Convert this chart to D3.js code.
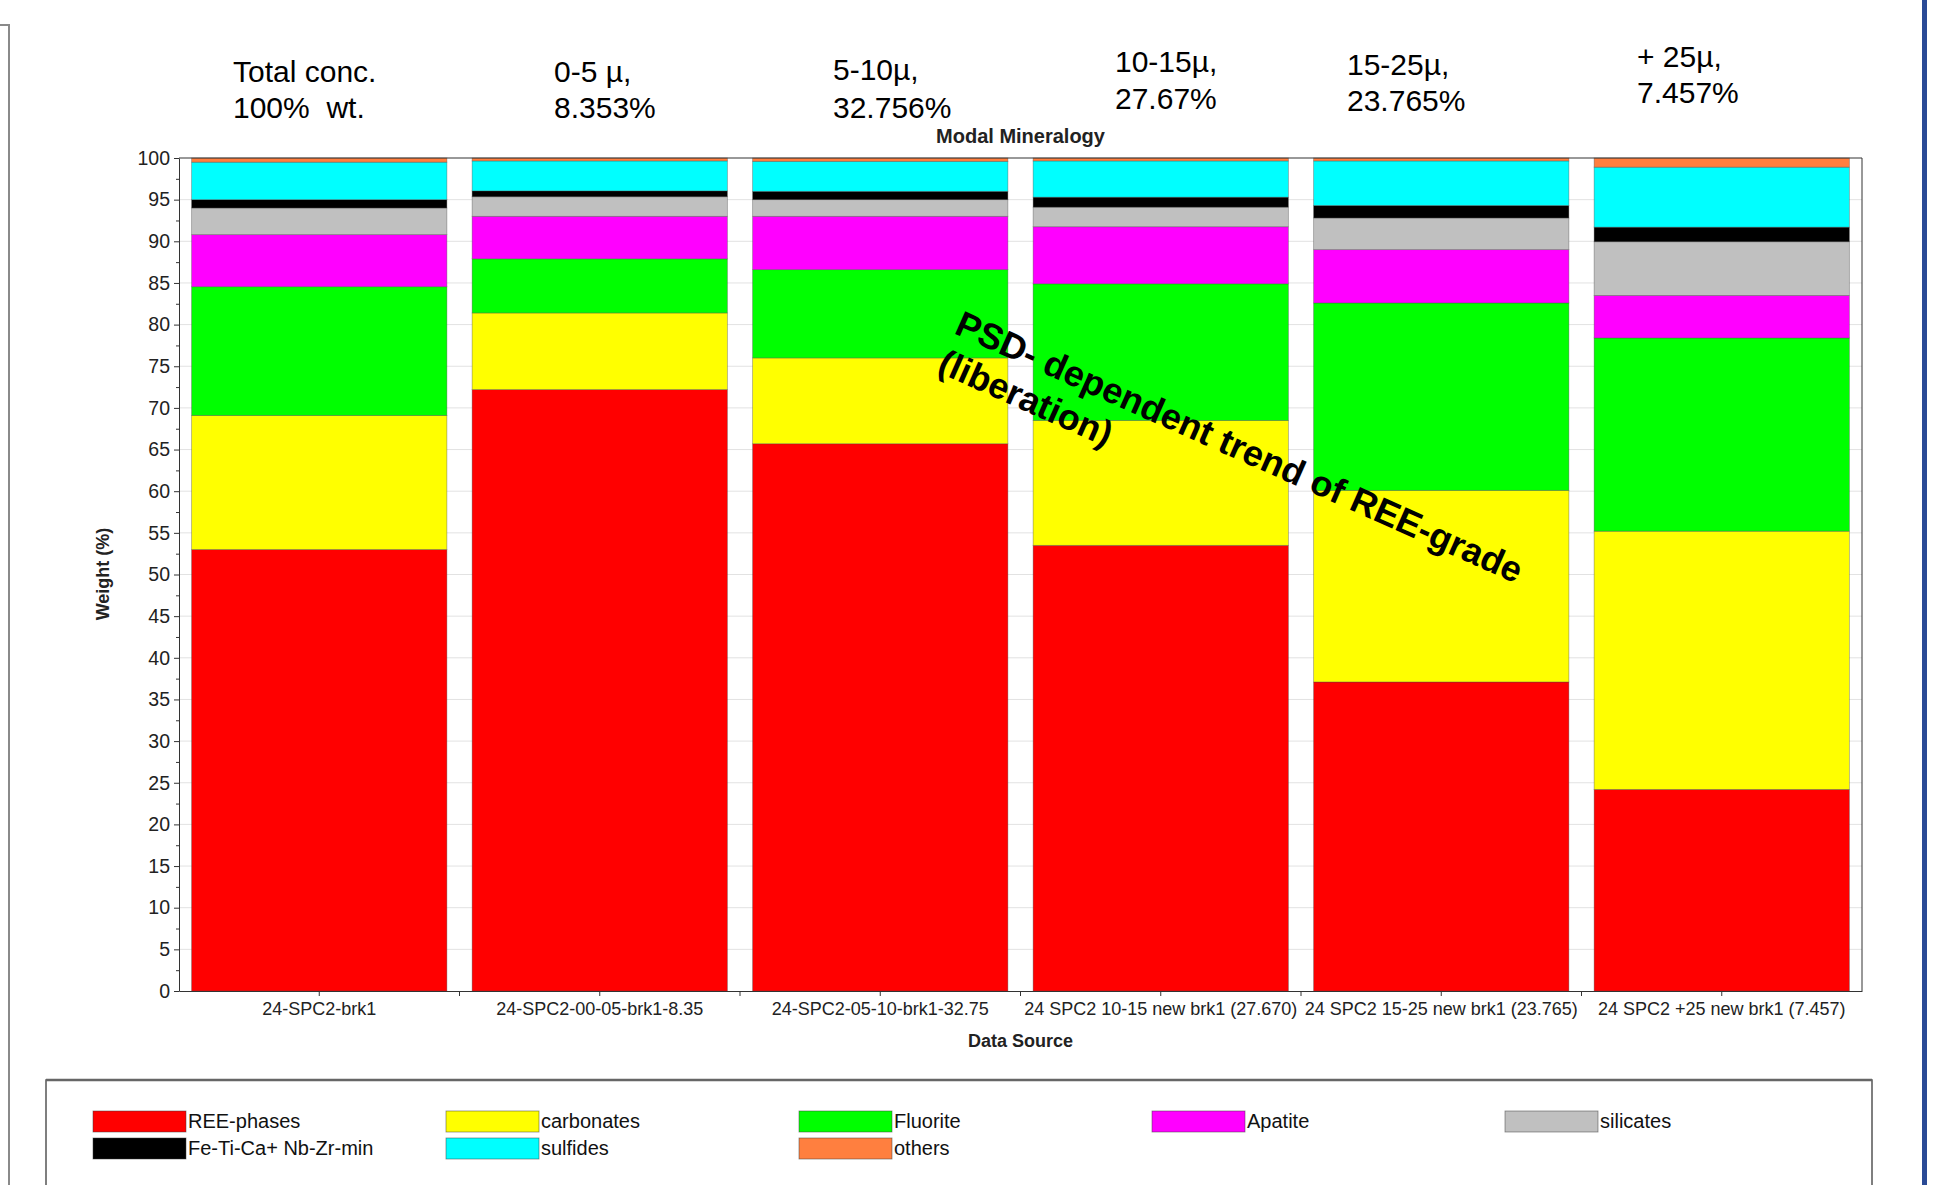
<!DOCTYPE html>
<html lang="en">
<head>
<meta charset="UTF-8">
<title>Modal Mineralogy</title>
<script src="https://d3js.org/d3.v7.min.js"></script>
<style>
  body { margin: 0; background: #fff; overflow: hidden; }
  text { font-family: "Liberation Sans", Arial, sans-serif; }
</style>
</head>
<body>
<div id="chart"></div>
<script>
// sample names (x categories)
var categories = [
  "24-SPC2-brk1",
  "24-SPC2-00-05-brk1-8.35",
  "24-SPC2-05-10-brk1-32.75",
  "24 SPC2 10-15 new brk1 (27.670)",
  "24 SPC2 15-25 new brk1 (23.765)",
  "24 SPC2 +25 new brk1 (7.457)"
];

// mineral groups, bottom to top of each stack
var minerals = ["REE-phases", "carbonates", "Fluorite", "Apatite", "silicates",
                "Fe-Ti-Ca+ Nb-Zr-min", "sulfides", "others"];
var colors = ["#ff0000", "#ffff00", "#00ff00", "#ff00ff", "#c0c0c0", "#000000", "#00ffff", "#ff7f3f"];

// weight %
var reePhases  = [53.0, 72.2, 65.7, 53.5, 37.1, 24.2];
var carbonates = [16.1, 9.2, 10.3, 15.0, 23.0, 31.0];
var fluorite   = [15.45, 6.5, 10.6, 16.4, 22.5, 23.2];
var apatite    = [6.25, 5.1, 6.4, 6.85, 6.4, 5.1];
var silicates  = [3.2, 2.35, 2.0, 2.35, 3.8, 6.45];
var feTiCa     = [1.0, 0.7, 1.0, 1.2, 1.5, 1.75];
var sulfides   = [4.5, 3.6, 3.6, 4.35, 5.35, 7.2];
var others     = [0.5, 0.35, 0.4, 0.35, 0.35, 1.1];

var yTicks = d3.range(0, 101, 5);

// size fraction headers above the bars
var headerLines = [
  ["Total conc.", "100%\u00a0 wt."],
  ["0-5 \u00b5,", "8.353%"],
  ["5-10\u00b5,", "32.756%"],
  ["10-15\u00b5,", "27.67%"],
  ["15-25\u00b5,", "23.765%"],
  ["+ 25\u00b5,", "7.457%"]
];
// x, baseline of first line, baseline of second line
var headerPos = [[233, 82, 118], [554, 82, 118], [833, 80, 118],
                 [1115, 72, 109], [1347, 75, 111], [1637, 67, 103]];

var series = [reePhases, carbonates, fluorite, apatite, silicates, feTiCa, sulfides, others];
var table = categories.map(function(c, i) {
  var row = {cat: c};
  minerals.forEach(function(m, j) { row[m] = series[j][i]; });
  return row;
});

var W = 1936, H = 1185;
var plotL = 179, plotR = 1862, plotT = 158, plotB = 991;

var svg = d3.select("#chart").append("svg")
  .attr("width", W)
  .attr("height", H);

var x = d3.scaleBand().domain(categories).range([plotL, plotR])
  .paddingInner(0.09).paddingOuter(0.045);
var y = d3.scaleLinear().domain([0, 100]).range([plotB, plotT]);
var color = d3.scaleOrdinal().domain(minerals).range(colors);

// outer frame bits
svg.append("path").attr("d", "M0,25H9V1185").attr("fill", "none")
  .attr("stroke", "#8a8a8a").attr("stroke-width", 2);
svg.append("rect").attr("x", 1922).attr("y", 0).attr("width", 5).attr("height", H)
  .attr("fill", "#2a4a96");

// grid lines
svg.append("g").selectAll("line")
  .data(yTicks.filter(function(t) { return t > 0 && t < 100; }))
  .enter().append("line")
  .attr("x1", plotL).attr("x2", plotR)
  .attr("y1", function(d) { return y(d); })
  .attr("y2", function(d) { return y(d); })
  .attr("stroke", "#e2e2e2");

// stacked bars
var stack = d3.stack().keys(minerals)(table);
svg.append("g").selectAll("g")
  .data(stack)
  .enter().append("g")
  .attr("fill", function(d) { return color(d.key); })
  .selectAll("rect")
  .data(function(d) { return d; })
  .enter().append("rect")
  .attr("x", function(d) { return x(d.data.cat); })
  .attr("width", x.bandwidth())
  .attr("y", function(d) { return y(d[1]); })
  .attr("height", function(d) { return y(d[0]) - y(d[1]); })
  .attr("stroke", "rgba(70,70,70,0.45)")
  .attr("stroke-width", 0.8);

// plot frame
svg.append("path")
  .attr("d", "M" + plotL + "," + plotT + "H" + plotR + "V" + plotB)
  .attr("fill", "none").attr("stroke", "#333");

// y axis
var yAxisG = svg.append("g")
  .attr("transform", "translate(" + plotL + ",0)")
  .call(d3.axisLeft(y).tickValues(yTicks).tickSize(5).tickPadding(4).tickSizeOuter(0));
svg.append("g")
  .attr("transform", "translate(" + plotL + ",0)")
  .call(d3.axisLeft(y).tickValues(d3.range(2.5, 100, 5)).tickSize(3).tickFormat(""))
  .select(".domain").remove();

// x axis
var xAxisG = svg.append("g")
  .attr("transform", "translate(0," + plotB + ")")
  .call(d3.axisBottom(x).tickSize(5).tickPadding(6).tickSizeOuter(0));
svg.append("g").selectAll("line")
  .data(categories.slice(1))
  .enter().append("line")
  .attr("x1", function(d) { return x(d) - (x.step() - x.bandwidth()) / 2; })
  .attr("x2", function(d) { return x(d) - (x.step() - x.bandwidth()) / 2; })
  .attr("y1", plotB).attr("y2", plotB + 5)
  .attr("stroke", "#333");

svg.selectAll(".tick text")
  .attr("font-family", "Liberation Sans, Arial, sans-serif")
  .attr("fill", "#222");
xAxisG.selectAll(".tick text").attr("font-size", 18);
yAxisG.selectAll(".tick text").attr("font-size", 19.5);
svg.selectAll(".domain, .tick line").attr("stroke", "#333");

// titles
svg.append("text").attr("x", (plotL + plotR) / 2).attr("y", 143)
  .attr("text-anchor", "middle").attr("font-size", 20).attr("font-weight", "bold")
  .attr("fill", "#222").text("Modal Mineralogy");
svg.append("text").attr("x", (plotL + plotR) / 2).attr("y", 1047)
  .attr("text-anchor", "middle").attr("font-size", 18).attr("font-weight", "bold")
  .attr("fill", "#222").text("Data Source");
svg.append("text")
  .attr("transform", "translate(109,574) rotate(-90)")
  .attr("text-anchor", "middle").attr("font-size", 18).attr("font-weight", "bold")
  .attr("fill", "#222").text("Weight (%)");

// size fraction headers
headerLines.forEach(function(lines, i) {
  var p = headerPos[i];
  var t = svg.append("text").attr("font-size", 30).attr("fill", "#000");
  t.append("tspan").attr("x", p[0]).attr("y", p[1]).text(lines[0]);
  t.append("tspan").attr("x", p[0]).attr("y", p[2]).text(lines[1]);
});

// trend annotation
var note = svg.append("text")
  .attr("transform", "translate(953,333) rotate(24)")
  .attr("font-size", 36).attr("font-weight", "bold").attr("fill", "#000");
note.append("tspan").attr("x", 0).attr("y", 0).text("PSD- dependent trend of REE-grade");
note.append("tspan").attr("x", 0).attr("y", 42).text("(liberation)");

// legend
svg.append("rect").attr("x", 46).attr("y", 1080).attr("width", 1826).attr("height", 140)
  .attr("fill", "#fff").attr("stroke", "#555").attr("stroke-width", 1.5);
svg.append("line").attr("x1", 46).attr("x2", 1872).attr("y1", 1080).attr("y2", 1080)
  .attr("stroke", "#666").attr("stroke-width", 2.5);

var legend = svg.append("g").selectAll("g")
  .data(minerals)
  .enter().append("g")
  .attr("transform", function(d, i) {
    return "translate(" + (93 + (i % 5) * 353) + "," + (1111 + Math.floor(i / 5) * 27) + ")";
  });
legend.append("rect").attr("width", 93).attr("height", 21)
  .attr("fill", function(d) { return color(d); })
  .attr("stroke", "rgba(60,60,60,0.6)").attr("stroke-width", 0.8);
legend.append("text").attr("x", 95).attr("y", 17)
  .attr("font-size", 20).attr("fill", "#111")
  .text(function(d) { return d; });
</script>
</body>
</html>
